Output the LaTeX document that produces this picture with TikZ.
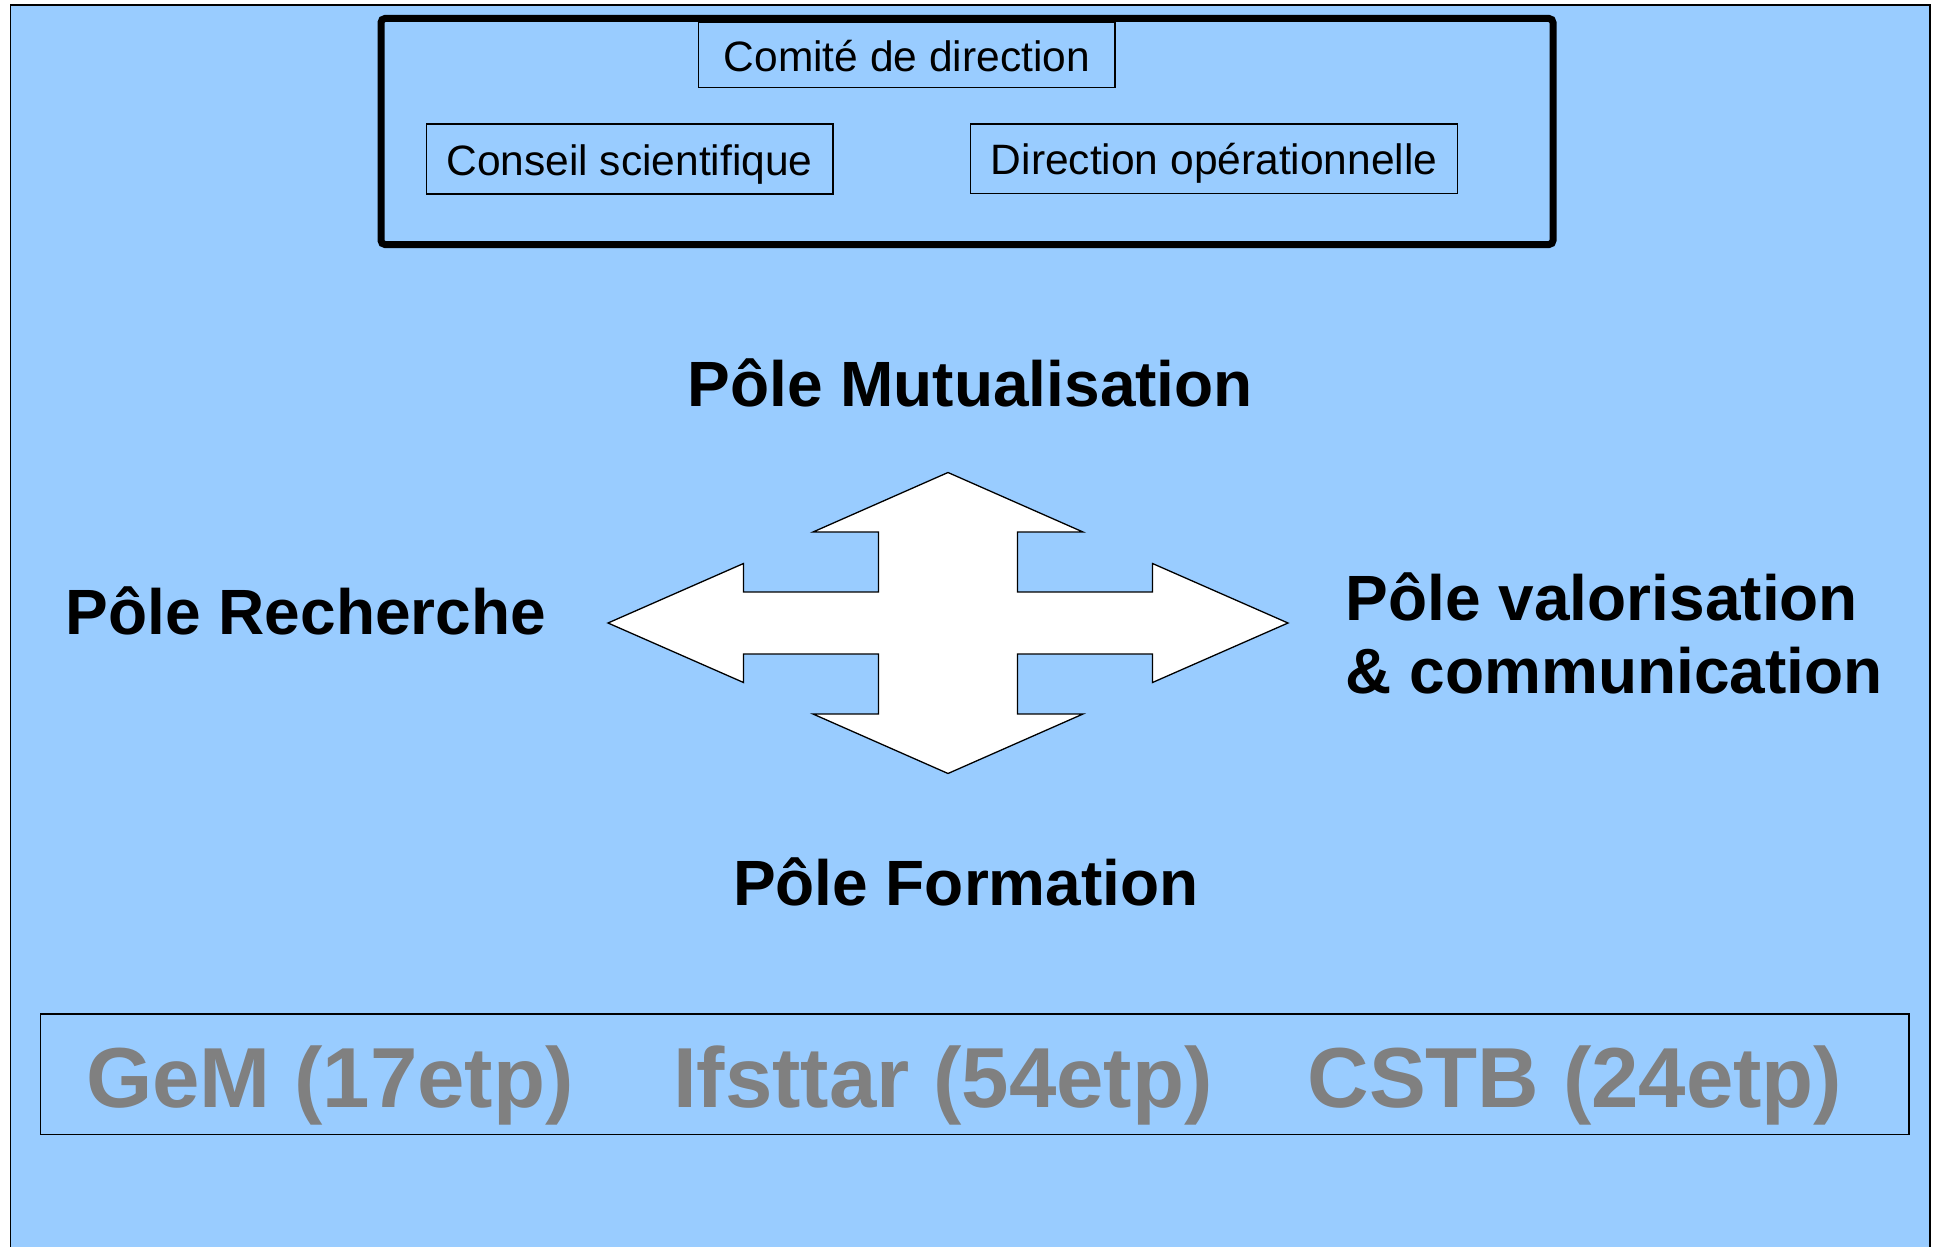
\documentclass[tikz,border=0pt]{standalone}
\usepackage{fontspec}
\setmainfont{Liberation Sans}
\definecolor{sky}{HTML}{99CCFF}
\definecolor{staffgrey}{HTML}{808080}
\begin{document}
\begin{tikzpicture}[
  x=0.5pt, y=-0.5pt,
  unitbox/.style={draw, line width=0.65pt, inner sep=0pt,
    font=\fontsize{21.25pt}{25pt}\selectfont, text height=16.2pt, text depth=0pt},
  pole/.style={font=\fontsize{32pt}{36.65pt}\selectfont\bfseries, inner sep=0pt, anchor=base},
  staff/.style={font=\fontsize{42.6pt}{50pt}\selectfont\bfseries, text=staffgrey, inner sep=0pt, anchor=base},
]
\useasboundingbox (0,0) rectangle (1934,1247);
\fill[white] (0,0) rectangle (1934,1247);
% sheet
\draw[fill=sky, line width=0.65pt] (10.7,5) rectangle (1930,1252);

% governance block
\node (board) [draw, line width=3.5pt, rounded corners=2pt, inner sep=0pt,
  minimum width=586pt, minimum height=113pt] at (967,131.5) {};
\node (comite) [unitbox, minimum width=208.2pt, minimum height=32.85pt]
  at (906.8,54.85) {Comité de direction};
\node (conseil) [unitbox, minimum width=203.4pt, minimum height=35pt]
  at (629.6,159) {Conseil scientifique};
\node (dirop) [unitbox, minimum width=243.5pt, minimum height=34.65pt]
  at (1214.2,158.7) {Direction opérationnelle};

% four-way arrow
\draw[fill=white, line width=0.65pt, line join=miter]
  (948,472.5) -- (1083,532) -- (1017.5,532) -- (1017.5,592) -- (1152.5,592)
  -- (1152.5,563.5) -- (1288,623) -- (1152.5,682.5) -- (1152.5,654)
  -- (1017.5,654) -- (1017.5,714) -- (1083,714) -- (948,773.5) -- (813,714)
  -- (878.5,714) -- (878.5,654) -- (743.5,654) -- (743.5,682.5) -- (608,623)
  -- (743.5,563.5) -- (743.5,592) -- (878.5,592) -- (878.5,532) -- (813,532)
  -- cycle;

% poles
\node (mutu) [pole] at (970.3,406.7) {Pôle Mutualisation};
\node (rech) [pole] at (306,634) {Pôle Recherche};
\node (valo) [pole, anchor=base west] at (1345.5,620) {Pôle valorisation};
\node (comm) [pole, anchor=base west] at (1345.5,693.3) {\& communication};
\node (form) [pole] at (965.9,905) {Pôle Formation};

% partners
\node (partners) [draw, line width=0.75pt, inner sep=0pt,
  minimum width=934.15pt, minimum height=60.25pt] at (974.85,1074.25) {};
\node (gem) [staff] at (330,1107.7) {GeM (17etp)};
\node (ifsttar) [staff] at (942.9,1107.7) {Ifsttar (54etp)};
\node (cstb) [staff] at (1575,1107.7) {CSTB (24etp)};
\end{tikzpicture}
\end{document}
